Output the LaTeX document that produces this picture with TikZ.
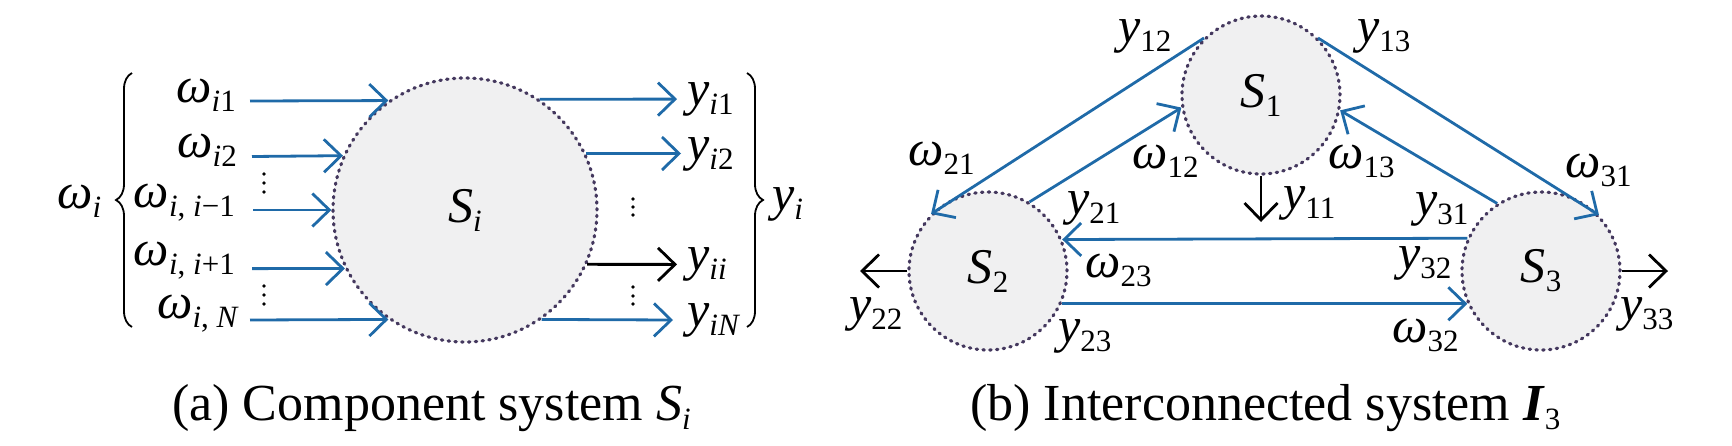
\documentclass[tikz,border=0pt]{standalone}
\usepackage{fontspec}
\setmainfont{Liberation Serif}
\usetikzlibrary{arrows.meta,decorations.pathreplacing}
\definecolor{bluec}{RGB}{31,106,168}
\definecolor{dotc}{RGB}{68,56,94}
\definecolor{fillc}{RGB}{240,240,241}
\newcommand\sbs[1]{\raisebox{-9pt}{\fontsize{31}{31}\selectfont #1}}
\newcommand\vy{\textit{y}}
\newcommand\vw{\textit{ω}}
\newcommand\vS{\textit{S}}
\begin{document}
\begin{tikzpicture}[x=1pt,y=-1pt,
  sysbox/.style={circle, draw=dotc, fill=fillc, line width=3.2pt, dash pattern=on 1.4pt off 5.4pt, line cap=round, inner sep=0pt, font=\fontsize{50}{50}\selectfont},
  barr/.style={draw=bluec, line width=2.8pt, -{Straight Barb[length=17pt,width=33pt]}},
  karr/.style={draw=black, line width=2.8pt, -{Straight Barb[length=17pt,width=33pt]}},
  lbl/.style={anchor=base west, inner sep=0pt, font=\fontsize{50}{50}\selectfont},
  lblr/.style={anchor=base east, inner sep=0pt, font=\fontsize{50}{50}\selectfont},
  captxt/.style={anchor=base west, inner sep=0pt, font=\fontsize{52}{52}\selectfont},
  brc/.style={draw=black, line width=1.8pt, decorate, decoration={brace, amplitude=16pt}},
  vdot/.style={fill=black}
]
\useasboundingbox (0,0) rectangle (1732,445);

% ---------- (a) component system ----------
\node[sysbox, minimum size=264pt] (Si) at (465,210) {\vS\sbs{\textit{i}}};

\coordinate (i1s) at (250,101);
\coordinate (i2s) at (252,156.5);
\coordinate (i3s) at (253,210);
\coordinate (i4s) at (252,268.6);
\coordinate (i5s) at (250,320);
\draw[barr] (i1s) -- (Si.125.1);
\draw[barr] (i2s) -- (Si.156.3);
\draw[barr] (i3s) -- (Si.180);
\draw[barr] (i4s) -- (Si.206.1);
\draw[barr] (i5s) -- (Si.235.7);

\coordinate (o1e) at (677,99.1);
\coordinate (o2e) at (681,153.5);
\coordinate (o3e) at (677,264.4);
\coordinate (o4e) at (673,320);
\draw[barr] (Si.56.4) -- (o1e);
\draw[barr] (Si.25.1) -- (o2e);
\draw[karr] (Si.-24.1) -- (o3e);
\draw[barr] (Si.-55.7) -- (o4e);

\node[lblr] (lw1) at (236,102) {\vw\sbs{\textit{i}1}};
\node[lblr] (lw2) at (237,157) {\vw\sbs{\textit{i}2}};
\node[lblr] (lw3) at (235,207) {\vw\sbs{\textit{i}, \textit{i}−1}};
\node[lblr] (lw4) at (235,265) {\vw\sbs{\textit{i}, \textit{i}+1}};
\node[lblr] (lw5) at (239,318) {\vw\sbs{\textit{i}, \textit{N}}};
\node[lbl] (lwi) at (57,208) {\vw\sbs{\textit{i}}};

\node[lbl] (ly1) at (687,105) {\vy\sbs{\textit{i}1}};
\node[lbl] (ly2) at (687,160) {\vy\sbs{\textit{i}2}};
\node[lbl] (ly3) at (687,270) {\vy\sbs{\textit{ii}}};
\node[lbl] (ly4) at (687,326) {\vy\sbs{\textit{iN}}};
\node[lbl] (lyi) at (772,210) {\vy\sbs{\textit{i}}};

\draw[brc] (132,327) -- (132,73);
\draw[brc] (747,73) -- (747,327);

\foreach \yy in {174,183,192,286,295,304} \fill[vdot] (264,\yy) circle (1.9pt);
\foreach \yy in {199,207,215,287,296,304} \fill[vdot] (633,\yy) circle (1.9pt);

\node[captxt] (capa) at (172,420) {(a) Component system \vS\sbs{\textit{i}}};

% ---------- (b) interconnected system ----------
\node[sysbox, minimum size=158pt] (S1) at (1261,95) {\vS\sbs{1}};
\node[sysbox, minimum size=158pt] (S2) at (988,271) {\vS\sbs{2}};
\node[sysbox, minimum size=158pt] (S3) at (1541,271) {\vS\sbs{3}};

\draw[barr] (S1.135) -- (S2.135);
\draw[barr] (S2.59) -- (S1.189);
\draw[barr] (S1.45) -- (S3.44);
\draw[barr] (S3.123) -- (S1.349);
\draw[barr] (S3.156.9) -- (S2.23.1);
\draw[barr] (S2.-24.7) -- (S3.204.7);

\coordinate (y11e) at (1261,222);
\coordinate (y22e) at (860,271);
\coordinate (y33e) at (1668,271);
\draw[karr] (S1.south) -- (y11e);
\draw[karr] (S2.west) -- (y22e);
\draw[karr] (S3.east) -- (y33e);

\node[lbl] (ty12) at (1118,42) {\vy\sbs{12}};
\node[lbl] (tw21) at (908,165) {\vw\sbs{21}};
\node[lbl] (tw12) at (1132,168) {\vw\sbs{12}};
\node[lbl] (ty21) at (1067,214) {\vy\sbs{21}};
\node[lbl] (tw23) at (1085,277) {\vw\sbs{23}};
\node[lbl] (ty22) at (849,320) {\vy\sbs{22}};
\node[lbl] (ty23) at (1058,342) {\vy\sbs{23}};
\node[lbl] (ty11) at (1283,209) {\vy\sbs{11}};
\node[lbl] (ty13) at (1357,42) {\vy\sbs{13}};
\node[lbl] (tw13) at (1328,168) {\vw\sbs{13}};
\node[lbl] (tw31) at (1565,177) {\vw\sbs{31}};
\node[lbl] (ty31) at (1415,215) {\vy\sbs{31}};
\node[lbl] (ty32) at (1398,269) {\vy\sbs{32}};
\node[lbl] (ty33) at (1620,320) {\vy\sbs{33}};
\node[lbl] (tw32) at (1392,342) {\vw\sbs{32}};

\node[captxt] (capb) at (970,420) {(b) Interconnected system \textbf{\textit{I}}\sbs{3}};
\end{tikzpicture}
\end{document}
